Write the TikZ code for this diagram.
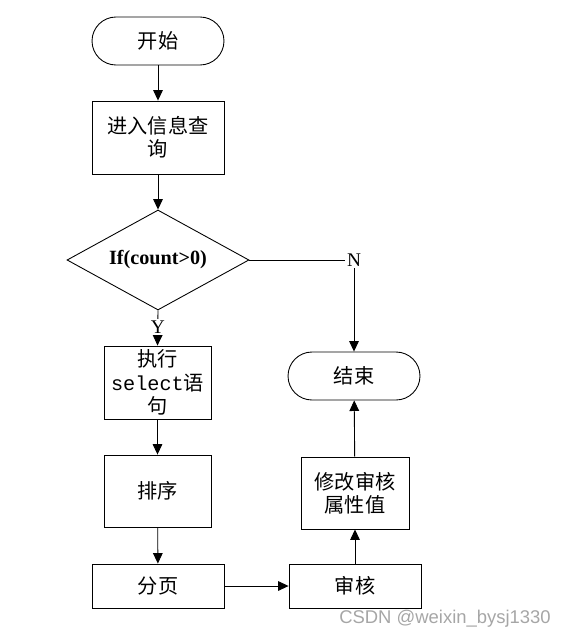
\documentclass[tikz,border=0pt]{standalone}
\usepackage{fontspec}
\setmainfont{Liberation Serif}
\newfontfamily\cjk{Noto Sans CJK SC}
\newfontfamily\monofont{Liberation Mono}
\newfontfamily\markfont{Liberation Sans}
\usetikzlibrary{shapes.geometric,arrows.meta}

\begin{document}
\begin{tikzpicture}[x=0.02cm, y=-0.02cm, line width=0.5pt,
        terminal/.style={draw, rounded corners=0.48cm, minimum width=2.64cm, minimum height=0.96cm, inner sep=0pt, font=\cjk\fontsize{11.5}{13}\selectfont},
        proc/.style={draw, inner sep=0pt, align=center, font=\cjk\fontsize{11.5}{13.3}\selectfont},
        decide/.style={draw, diamond, aspect=1.82, minimum width=3.64cm, minimum height=2cm, inner sep=0pt, font=\bfseries\fontsize{11.5}{13}\selectfont},
        tag/.style={fill=white, inner sep=1pt, font=\fontsize{11}{12}\selectfont},
        flow/.style={-{Triangle[length=6pt, width=5.5pt]}}]
    \useasboundingbox (0,0) rectangle (569,639);
    % left column
    \node[terminal] (start) at (158,41) {开始};
    \node[proc, minimum width=2.64cm, minimum height=1.46cm] (query) at (158,137.5) {进入信息查\\询};
    \node[decide] (cond) at (158,260) {If(count>0)};
    \node[proc, minimum width=2.14cm, minimum height=1.46cm] (exec) at (157.5,382.5) {执行\\{\monofont select}语\\句};
    \node[proc, minimum width=2.14cm, minimum height=1.44cm] (sort) at (157.5,491) {排序};
    \node[proc, minimum width=2.64cm, minimum height=0.88cm] (page) at (158,586) {分页};
    % right column
    \node[proc, minimum width=2.64cm, minimum height=0.88cm] (audit) at (355,586) {审核};
    \node[proc, minimum width=2.16cm, minimum height=1.44cm] (modify) at (355,493) {修改审核\\属性值};
    \node[terminal] (end) at (354,376) {结束};
    \node[text=gray!70, font=\markfont\fontsize{10.5}{12}\selectfont] (mark) at (445,619) {CSDN @weixin\_bysj1330};

    \draw[flow] (start) -- (query);
    \draw[flow] (query) -- (cond);
    \draw[flow] (cond.east) -| node[tag, pos=0.5] {N} (end.north);
    \draw[flow] (cond.south) -- node[tag, pos=0.47] {Y} (exec.north);
    \draw[flow] (exec) -- (sort);
    \draw[flow] (sort) -- (page);
    \draw[flow] (page) -- (audit);
    \draw[flow] (audit) -- (modify);
    \draw[flow] (modify) -- (end);
\end{tikzpicture}
\end{document}
